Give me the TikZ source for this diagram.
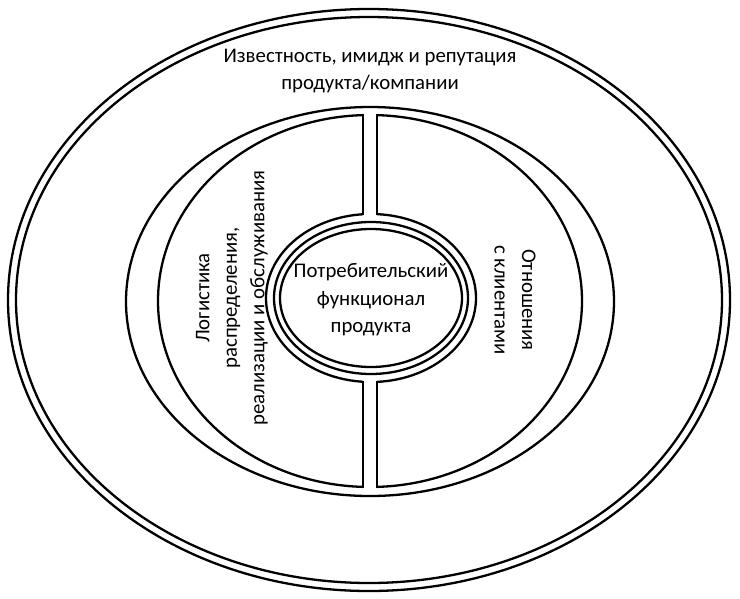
\documentclass[tikz,border=0pt]{standalone}
\usepackage{fontspec}
\setmainfont{Carlito}
\begin{document}
\begin{tikzpicture}[x=1pt,y=-1pt,line width=2.3pt,
  txt/.style={align=center,inner sep=0pt,font=\fontsize{20.8}{27.5}\selectfont}]
\useasboundingbox (0,0) rectangle (740,598);
\fill[white] (0,0) rectangle (740,598);
% outer double ellipse
\draw (369,300) ellipse [x radius=361, y radius=291];
\draw (369,300) ellipse [x radius=353, y radius=283];
% middle ellipse
\draw (370,301.5) ellipse [x radius=244, y radius=194.5];
% left crescent
\begin{scope}
  \clip (0,0) rectangle (363,598);
  \draw (370,301) ellipse [x radius=212, y radius=186];
  \draw (371,298) ellipse [x radius=105, y radius=84];
\end{scope}
% right crescent
\begin{scope}
  \clip (377,0) rectangle (740,598);
  \draw (370,301) ellipse [x radius=212, y radius=186];
  \draw (371,298) ellipse [x radius=105, y radius=84];
\end{scope}
\coordinate (lt1) at (363,115.1);
\coordinate (lt2) at (363,214.2);
\coordinate (lb1) at (363,381.8);
\coordinate (lb2) at (363,486.9);
\coordinate (rt1) at (377,115.1);
\coordinate (rt2) at (377,214.1);
\coordinate (rb1) at (377,381.9);
\coordinate (rb2) at (377,486.9);
\draw[line cap=rect] (lt1) -- (lt2) (lb1) -- (lb2) (rt1) -- (rt2) (rb1) -- (rb2);
% inner double circle
\draw (371,298) ellipse [x radius=97, y radius=76];
\draw (371,298) ellipse [x radius=91, y radius=69];
% texts
\node[txt] (fame) at (370,71) {Известность, имидж и репутация\\продукта/компании};
\node[txt] (core) at (371,300) {Потребительский\\функционал\\продукта};
\node[txt,rotate=90] (logistics) at (232,298) {Логистика\\распределения,\\реализации и обслуживания};
\node[txt,rotate=-90] (relations) at (515,300) {Отношения\\с клиентами};
\end{tikzpicture}
\end{document}
